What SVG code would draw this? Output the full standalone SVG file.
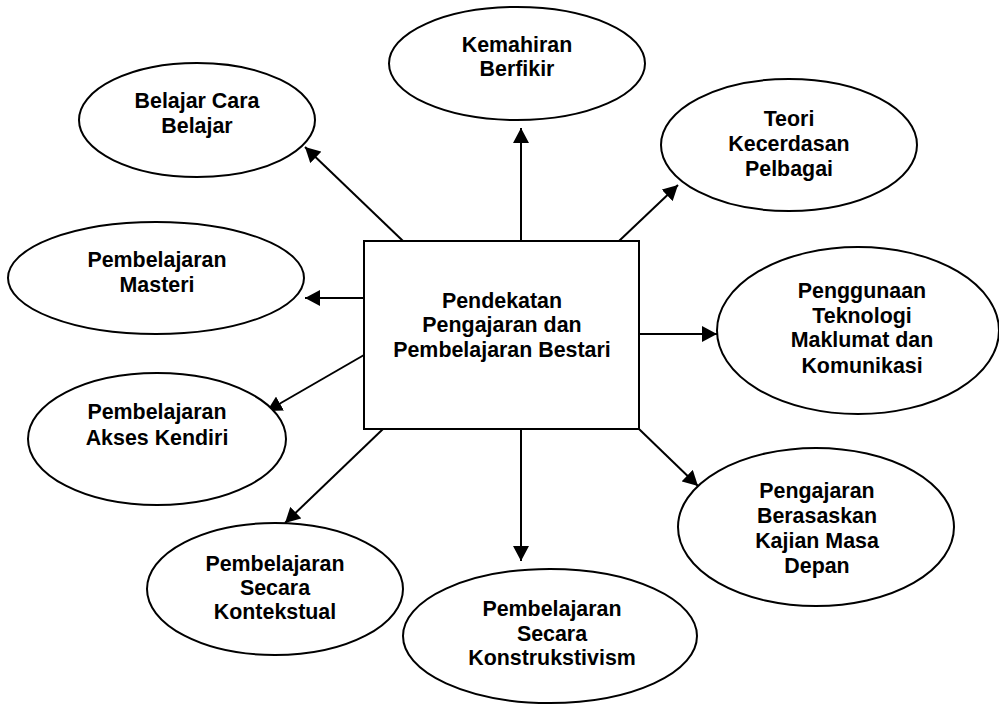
<svg xmlns="http://www.w3.org/2000/svg" width="999" height="704" viewBox="0 0 999 704">
<style>
.shape{fill:#fff;stroke:#000;stroke-width:2}
.t{font-family:"Liberation Sans",Arial,sans-serif;font-weight:bold;font-size:21.4px;fill:#000;text-anchor:middle}
.c{stroke:#000;stroke-width:2;fill:none;marker-end:url(#ah)}
</style>
<defs>
<marker id="ah" markerUnits="userSpaceOnUse" markerWidth="16" markerHeight="16" refX="15" refY="8" orient="auto" viewBox="0 0 16 16">
<path d="M0,0 L15,8 L0,16 z" fill="#000"/>
</marker>
</defs>
<rect width="999" height="704" fill="#fff"/>
<g id="connectors">
<line class="c" x1="403" y1="241" x2="305" y2="147"/>
<line class="c" x1="521" y1="241" x2="521" y2="128"/>
<line class="c" x1="619" y1="241" x2="678" y2="185"/>
<line class="c" x1="364" y1="298" x2="305" y2="298"/>
<line class="c" x1="639" y1="334" x2="717" y2="334"/>
<line class="c" x1="364" y1="355" x2="267" y2="411"/>
<line class="c" x1="383" y1="429" x2="285" y2="523"/>
<line class="c" x1="521" y1="429" x2="521" y2="561"/>
<line class="c" x1="639" y1="429" x2="698" y2="486"/>
</g>
<g id="center">
<rect class="shape" x="364" y="241" width="275" height="188"/>
<text class="t" x="502" y="308">Pendekatan</text>
<text class="t" x="502" y="332">Pengajaran dan</text>
<text class="t" x="502" y="357">Pembelajaran Bestari</text>
</g>
<g id="kemahiran">
<ellipse class="shape" cx="517" cy="63.5" rx="128" ry="56.5"/>
<text class="t" x="517" y="52">Kemahiran</text>
<text class="t" x="517" y="76">Berfikir</text>
</g>
<g id="belajar">
<ellipse class="shape" cx="197" cy="120" rx="118" ry="57"/>
<text class="t" x="197" y="108">Belajar Cara</text>
<text class="t" x="197" y="133">Belajar</text>
</g>
<g id="teori">
<ellipse class="shape" cx="789" cy="145" rx="128" ry="66"/>
<text class="t" x="789" y="126">Teori</text>
<text class="t" x="789" y="151">Kecerdasan</text>
<text class="t" x="789" y="176">Pelbagai</text>
</g>
<g id="masteri">
<ellipse class="shape" cx="156" cy="278" rx="148" ry="56"/>
<text class="t" x="157" y="267">Pembelajaran</text>
<text class="t" x="157" y="292">Masteri</text>
</g>
<g id="penggunaan">
<ellipse class="shape" cx="858" cy="330.5" rx="141" ry="83.5"/>
<text class="t" x="862" y="298">Penggunaan</text>
<text class="t" x="862" y="323">Teknologi</text>
<text class="t" x="862" y="347">Maklumat dan</text>
<text class="t" x="862" y="373">Komunikasi</text>
</g>
<g id="akses">
<ellipse class="shape" cx="157" cy="439" rx="129" ry="66"/>
<text class="t" x="157" y="419">Pembelajaran</text>
<text class="t" x="157" y="445">Akses Kendiri</text>
</g>
<g id="pengajaran">
<ellipse class="shape" cx="816" cy="527" rx="138" ry="79"/>
<text class="t" x="817" y="498">Pengajaran</text>
<text class="t" x="817" y="523">Berasaskan</text>
<text class="t" x="817" y="548">Kajian Masa</text>
<text class="t" x="817" y="573">Depan</text>
</g>
<g id="kontekstual">
<ellipse class="shape" cx="275" cy="589" rx="128" ry="66"/>
<text class="t" x="275" y="571">Pembelajaran</text>
<text class="t" x="275" y="595">Secara</text>
<text class="t" x="275" y="619">Kontekstual</text>
</g>
<g id="konstrukstivism">
<ellipse class="shape" cx="550" cy="636" rx="147" ry="67"/>
<text class="t" x="552" y="616">Pembelajaran</text>
<text class="t" x="552" y="641">Secara</text>
<text class="t" x="552" y="665">Konstrukstivism</text>
</g>
</svg>
